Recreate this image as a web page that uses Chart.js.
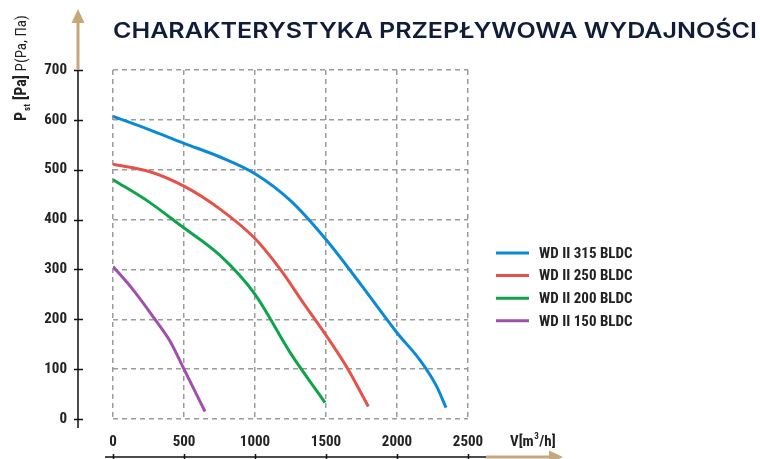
<!DOCTYPE html>
<html>
<head>
<meta charset="utf-8">
<script src="https://cdn.jsdelivr.net/npm/chart.js@4.4.1/dist/chart.umd.min.js"></script>
<style>
  html, body { margin: 0; padding: 0; background: #fff; }
  #wrap { width: 760px; height: 459px; position: relative; }
</style>
</head>
<body>
<div id="wrap"><canvas id="c" width="760" height="459"></canvas></div>
<script>
// values
const seriesNames = ["WD II 315 BLDC", "WD II 250 BLDC", "WD II 200 BLDC", "WD II 150 BLDC"];
const seriesColors = ["#0a8ad6", "#e5524a", "#0fa44c", "#a04fab"];

const flow315 = [0, 250, 500, 750, 1000, 1250, 1500, 1750, 2000, 2162, 2280, 2345];
const pres315 = [607, 581, 553, 526, 492, 438, 360, 268, 173, 118, 65, 23];

const flow250 = [0, 261, 500, 754, 1000, 1176, 1340, 1505, 1657, 1798];
const pres250 = [511, 496, 467, 421, 362, 301, 233, 166, 99, 25];

const flow200 = [0, 250, 472, 754, 1000, 1250, 1493];
const pres200 = [480, 436, 389, 328, 250, 132, 33];

const flow150 = [0, 142, 293, 400, 500, 648];
const pres150 = [306, 259, 201, 157, 100, 15];

const xTicks = [0, 500, 1000, 1500, 2000, 2500];
const yTicks = [0, 100, 200, 300, 400, 500, 600, 700];

const titleText = "CHARAKTERYSTYKA PRZEPŁYWOWA WYDAJNOŚCI";

const condensed = '"Liberation Sans Narrow", "Roboto Condensed", "DejaVu Sans Condensed", Roboto, sans-serif';
const tan = "#c6a77c";

function toPoints(xs, ys) {
  return xs.map((x, i) => ({ x: x, y: ys[i] }));
}

const flows = [flow315, flow250, flow200, flow150];
const pressures = [pres315, pres250, pres200, pres150];

const datasets = seriesNames.map((name, i) => ({
  label: name,
  data: toPoints(flows[i], pressures[i]),
  borderColor: seriesColors[i],
  backgroundColor: seriesColors[i],
  borderWidth: 3,
  pointRadius: 0,
  showLine: true,
  fill: false,
  cubicInterpolationMode: "monotone",
}));

function arrowHead(ctx, tipX, tipY, dir) {
  // dir: "up" or "right"
  ctx.beginPath();
  if (dir === "up") {
    ctx.moveTo(tipX, tipY);
    ctx.lineTo(tipX - 6.5, tipY + 14);
    ctx.lineTo(tipX + 6.5, tipY + 14);
  } else {
    ctx.moveTo(tipX, tipY);
    ctx.lineTo(tipX - 14, tipY - 6.5);
    ctx.lineTo(tipX - 14, tipY + 6.5);
  }
  ctx.closePath();
  ctx.fill();
}

// no overhang padding, the chart area is placed by layout.padding and the fit sizes
function noScalePadding(scale) {
  scale.paddingTop = 0;
  scale.paddingBottom = 0;
  scale.paddingLeft = 0;
  scale.paddingRight = 0;
}

const decorations = {
  id: "decorations",
  afterDraw(chart) {
    const ctx = chart.ctx;
    const xs = chart.scales.x;
    const ys = chart.scales.y;
    ctx.save();

    // title
    ctx.fillStyle = "#111d38";
    ctx.font = '600 22px Inter, "Open Sans", sans-serif';
    ctx.textBaseline = "alphabetic";
    ctx.textAlign = "left";
    const tw = ctx.measureText(titleText).width;
    ctx.save();
    ctx.translate(113, 38);
    ctx.scale(644 / tw, 1);
    ctx.fillText(titleText, 0, 0);
    ctx.restore();

    // vertical axis line with ticks
    const axX = 78;
    ctx.strokeStyle = "#111";
    ctx.lineWidth = 1.5;
    ctx.beginPath();
    ctx.moveTo(axX, ys.getPixelForValue(700));
    ctx.lineTo(axX, ys.getPixelForValue(0) + 9);
    ys.ticks.forEach(t => {
      const py = Math.round(ys.getPixelForValue(t.value)) + 0.5;
      ctx.moveTo(axX - 4, py);
      ctx.lineTo(axX + 5, py);
    });
    ctx.stroke();

    // tan arrow up
    ctx.strokeStyle = tan;
    ctx.fillStyle = tan;
    ctx.lineWidth = 3;
    ctx.beginPath();
    ctx.moveTo(axX, ys.getPixelForValue(700));
    ctx.lineTo(axX, 22);
    ctx.stroke();
    arrowHead(ctx, axX, 9, "up");

    // horizontal axis line with ticks
    const axY = 457;
    ctx.strokeStyle = "#111";
    ctx.lineWidth = 1.5;
    ctx.beginPath();
    ctx.moveTo(105, axY);
    ctx.lineTo(486, axY);
    xs.ticks.forEach(t => {
      const px = Math.round(xs.getPixelForValue(t.value)) + 0.5;
      ctx.moveTo(px, axY - 3);
      ctx.lineTo(px, axY + 3);
    });
    ctx.stroke();

    // tan arrow right
    ctx.strokeStyle = tan;
    ctx.fillStyle = tan;
    ctx.lineWidth = 3;
    ctx.beginPath();
    ctx.moveTo(486, axY);
    ctx.lineTo(550, axY);
    ctx.stroke();
    arrowHead(ctx, 563, axY, "right");

    // x unit label V[m3/h]
    ctx.fillStyle = "#222";
    ctx.textBaseline = "alphabetic";
    ctx.textAlign = "left";
    ctx.font = "bold 15px " + condensed;
    let ux = 510;
    const uy = 446;
    ctx.fillText("V[m", ux, uy);
    ux += ctx.measureText("V[m").width;
    ctx.font = "bold 9px " + condensed;
    ctx.fillText("3", ux + 0.5, uy - 7);
    ux += ctx.measureText("3").width + 1;
    ctx.font = "bold 15px " + condensed;
    ctx.fillText("/h]", ux, uy);

    // rotated y label
    ctx.save();
    ctx.translate(26, 121);
    ctx.rotate(-Math.PI / 2);
    ctx.fillStyle = "#222";
    let lx = 0;
    ctx.font = "bold 16px " + condensed;
    ctx.fillText("P", lx, 0);
    lx += ctx.measureText("P").width + 1;
    ctx.font = "bold 9px " + condensed;
    ctx.fillText("st", lx, 4);
    lx += ctx.measureText("st").width + 4;
    ctx.font = "bold 16px " + condensed;
    ctx.fillText("[Pa]", lx, 0);
    lx += ctx.measureText("[Pa] ").width;
    ctx.font = "15px " + condensed;
    ctx.fillText("P(Pa, Па)", lx, 0);
    ctx.restore();

    // legend from the datasets
    ctx.font = "bold 15px " + condensed;
    ctx.textBaseline = "middle";
    chart.data.datasets.forEach((ds, i) => {
      const ly = 253 + i * 22.6;
      ctx.strokeStyle = ds.borderColor;
      ctx.lineWidth = 3;
      ctx.beginPath();
      ctx.moveTo(496, ly);
      ctx.lineTo(529, ly);
      ctx.stroke();
      ctx.fillStyle = "#222";
      ctx.fillText(ds.label, 539, ly + 1);
    });

    ctx.restore();
  }
};

new Chart(document.getElementById("c"), {
  type: "scatter",
  data: { datasets: datasets },
  options: {
    responsive: false,
    animation: false,
    layout: { padding: { left: 0, right: 292, top: 70, bottom: 0 } },
    plugins: {
      legend: { display: false },
      title: { display: false },
      tooltip: { enabled: false },
    },
    scales: {
      x: {
        type: "linear",
        min: 0,
        max: 2500,
        afterFit(scale) { scale.height = 40; noScalePadding(scale); },
        afterBuildTicks(scale) { scale.ticks = xTicks.map(v => ({ value: v })); },
        grid: { color: "#9b9b9b", lineWidth: 1.5, drawTicks: false },
        border: { display: false, dash: [5, 4] },
        ticks: {
          padding: 14,
          color: "#222",
          maxRotation: 0,
          autoSkip: false,
          callback: v => String(v),
          font: { family: condensed, size: 15, weight: "bold" },
        },
      },
      y: {
        type: "linear",
        min: 0,
        max: 700,
        afterFit(scale) { scale.width = 113; noScalePadding(scale); },
        afterBuildTicks(scale) { scale.ticks = yTicks.map(v => ({ value: v })); },
        grid: { color: "#9b9b9b", lineWidth: 1.5, drawTicks: false },
        border: { display: false, dash: [5, 4] },
        ticks: {
          padding: 46,
          color: "#222",
          autoSkip: false,
          callback: v => String(v),
          font: { family: condensed, size: 15, weight: "bold" },
        },
      },
    },
  },
  plugins: [decorations],
});
</script>
</body>
</html>
